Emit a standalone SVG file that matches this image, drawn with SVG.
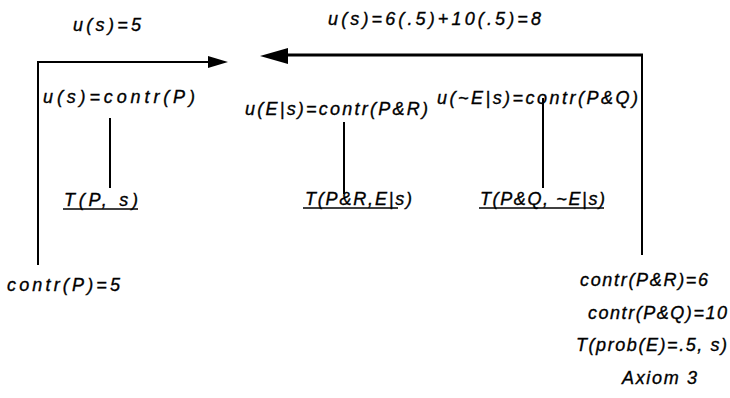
<svg xmlns="http://www.w3.org/2000/svg" width="730" height="398" viewBox="0 0 730 398">
<style>
text{font-family:"Liberation Sans",Arial,sans-serif;font-style:italic;font-size:18px;fill:#000;stroke:#000;stroke-width:0.35}
.ln{stroke:#000;stroke-width:2;fill:none}
.thick{stroke:#000;stroke-width:3;fill:none}
.ul{stroke:#000;stroke-width:1.4}
</style>
<rect width="730" height="398" fill="#fff"/>
<g id="connectors">
<polyline class="ln" points="38,265 38,62 212,62"/>
<polygon points="228,62 208,56 208,68" fill="#000"/>
<line class="ln" x1="642" y1="54" x2="642" y2="255"/>
<line class="thick" x1="643" y1="55" x2="284" y2="55"/>
<polygon points="260,56 288,48 288,64" fill="#000"/>
<line class="ln" x1="110" y1="118" x2="110" y2="188"/>
<line class="ln" x1="344" y1="122" x2="344" y2="194"/>
<line class="ln" x1="543" y1="98" x2="543" y2="188"/>
</g>
<g id="top-left-label"><text x="73" y="31" textLength="68" lengthAdjust="spacing">u(s)=5</text></g>
<g id="top-right-label"><text x="328" y="25" textLength="213" lengthAdjust="spacing">u(s)=6(.5)+10(.5)=8</text></g>
<g id="node-us"><text x="43" y="103" textLength="152" lengthAdjust="spacing">u(s)=contr(P)</text></g>
<g id="node-uEs"><text x="245" y="115" textLength="183" lengthAdjust="spacing">u(E|s)=contr(P&amp;R)</text></g>
<g id="node-unEs"><text x="437" y="104" textLength="201" lengthAdjust="spacing">u(~E|s)=contr(P&amp;Q)</text></g>
<g id="node-TPs"><text x="64" y="206" textLength="74" lengthAdjust="spacing">T(P,  s)</text><line class="ul" x1="63" y1="209" x2="138" y2="209"/></g>
<g id="node-TPRE"><text x="305" y="205" textLength="107" lengthAdjust="spacing">T(P&amp;R,E|s)</text><line class="ul" x1="303" y1="208" x2="398" y2="208"/></g>
<g id="node-TPQnE"><text x="480" y="205" textLength="125" lengthAdjust="spacing">T(P&amp;Q,  ~E|s)</text><line class="ul" x1="479" y1="208" x2="604" y2="208"/></g>
<g id="node-contrP"><text x="7" y="291" textLength="113" lengthAdjust="spacing">contr(P)=5</text></g>
<g id="node-premises">
<text x="580" y="286" textLength="128" lengthAdjust="spacing">contr(P&amp;R)=6</text>
<text x="588" y="319" textLength="139" lengthAdjust="spacing">contr(P&amp;Q)=10</text>
<text x="576" y="351" textLength="151" lengthAdjust="spacing">T(prob(E)=.5,   s)</text>
<text x="622" y="384" textLength="75" lengthAdjust="spacing">Axiom 3</text>
</g>
</svg>
